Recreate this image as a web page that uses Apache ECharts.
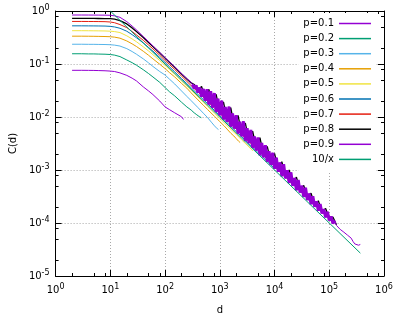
<!DOCTYPE html>
<html>
<head>
<meta charset="utf-8">
<script src="https://cdn.jsdelivr.net/npm/echarts@6/dist/echarts.min.js"></script>
<style>
  html, body { margin: 0; padding: 0; background: #fff; }
  #chart { width: 407px; height: 323px; }
</style>
</head>
<body>
<div id="chart"></div>
<script>
// d values shared by the smooth part of every curve
const dGrid = [2, 3, 4, 5, 6, 8, 10, 12, 15, 20, 25, 30, 40, 50, 60, 80, 100, 120, 150, 200,
  250, 300, 400, 500, 600, 800, 1000, 1200, 1500, 2000, 2500, 3000, 4000, 5000, 6000, 8000,
  10000, 12000, 15000, 20000];

// C(d), one array per p
const c01 = [0.076, 0.076, 0.0758, 0.0756, 0.0752, 0.0745, 0.0735, 0.072, 0.068, 0.061,
  0.054, 0.048, 0.037, 0.031, 0.0265, 0.020, 0.0155, 0.0138, 0.0120, 0.0101];
const c01TailD = [205, 210, 214, 217];
const c01TailC = [0.0097, 0.0100, 0.0094, 0.0090];

const c02 = [0.156, 0.156, 0.155, 0.155, 0.154, 0.153, 0.151, 0.147, 0.138, 0.119,
  0.106, 0.095, 0.078, 0.066, 0.057, 0.045, 0.036, 0.030, 0.025, 0.019, 0.0155, 0.0135];
const c02TailD = [320, 340, 360, 380, 400, 420, 440, 460];
const c02TailC = [0.0132, 0.0120, 0.0126, 0.0110, 0.0117, 0.0102, 0.0110, 0.0097];

const c03 = [0.236, 0.236, 0.235, 0.235, 0.234, 0.233, 0.231, 0.227, 0.218, 0.195,
  0.172, 0.153, 0.125, 0.105, 0.090, 0.072, 0.062, 0.052, 0.042, 0.031,
  0.0245, 0.0203, 0.0150, 0.0118, 0.0097];
const c03TailD = [650, 700, 750, 800, 850, 900, 944];
const c03TailC = [0.0094, 0.0080, 0.0082, 0.0068, 0.0071, 0.0060, 0.0058];

const c04 = [0.335, 0.335, 0.334, 0.333, 0.332, 0.330, 0.327, 0.321, 0.307, 0.272,
  0.240, 0.214, 0.174, 0.146, 0.125, 0.099, 0.082, 0.069, 0.057, 0.043,
  0.035, 0.0285, 0.021, 0.0167, 0.0138, 0.0103, 0.0082, 0.0068];
const c04TailD = [1300, 1400, 1500, 1600, 1700, 1800, 1900, 2000, 2100, 2200, 2300, 2350];
const c04TailC = [0.0066, 0.0057, 0.0058, 0.0049, 0.0051, 0.0044, 0.0046, 0.0039, 0.0041, 0.0035, 0.0036, 0.0033];

const c05 = [0.425, 0.425, 0.424, 0.423, 0.422, 0.420, 0.416, 0.409, 0.392, 0.340,
  0.297, 0.263, 0.211, 0.176, 0.150, 0.116, 0.094, 0.079, 0.064, 0.048,
  0.0385, 0.032, 0.0238, 0.019, 0.0158, 0.0118, 0.0094, 0.0078, 0.0062, 0.0047,
  0.0037, 0.0031, 0.0023];

const c06 = [0.525, 0.525, 0.524, 0.523, 0.522, 0.520, 0.513, 0.500, 0.472, 0.415,
  0.358, 0.313, 0.250, 0.205, 0.175, 0.133, 0.107, 0.089, 0.071, 0.053,
  0.0425, 0.0355, 0.0266, 0.0213, 0.0178, 0.0133, 0.0106, 0.0089, 0.0071, 0.0053,
  0.0043, 0.00355, 0.00266, 0.00213, 0.00178, 0.00133, 0.00106];

const c07 = [0.635, 0.635, 0.634, 0.633, 0.632, 0.629, 0.620, 0.600, 0.555, 0.485,
  0.410, 0.355, 0.280, 0.228, 0.193, 0.146, 0.117, 0.098, 0.079, 0.059,
  0.047, 0.039, 0.0295, 0.0235, 0.0196, 0.0147, 0.0117, 0.0098, 0.0078, 0.0059,
  0.0047, 0.0039, 0.00293, 0.00235, 0.00196, 0.00147, 0.00117, 0.00098, 0.00078, 0.00059];

const c08 = [0.725, 0.725, 0.724, 0.723, 0.722, 0.720, 0.715, 0.700, 0.660, 0.570,
  0.480, 0.410, 0.315, 0.255, 0.213, 0.161, 0.129, 0.108, 0.087, 0.065, 0.052, 0.044];
// noisy part of p=0.8
const c08NoiseD = [341.5, 398.1, 464.2, 541.2, 631.0, 735.6, 857.7,
  1000, 1166, 1359, 1585, 1848, 2154, 2512, 2929, 3415, 3981, 4642, 5412, 6310, 7356, 8577,
  10000, 11660, 13590, 15850, 18480, 21540, 25120, 29290, 34150, 39810, 46420, 54120, 63100, 73560, 85770,
  100000, 116600, 135900];
const c08NoiseC = [0.0410, 0.0314, 0.0377, 0.0222, 0.0333, 0.0163, 0.0268,
  0.0120, 0.0193, 0.00883, 0.0151, 0.00649, 0.0107, 0.00478, 0.00768, 0.00351, 0.0054, 0.00258, 0.00407, 0.0019, 0.00279, 0.0014,
  0.00205, 0.00103, 0.00143, 0.000757, 0.00100, 0.000557, 0.000736, 0.00041, 0.000513, 0.000301, 0.000366, 0.000222, 0.000262, 0.000163, 0.000187,
  1.25e-4, 1.29e-4, 9.2e-5];

const c09 = [0.840, 0.840, 0.839, 0.838, 0.837, 0.835, 0.830, 0.810, 0.760, 0.630,
  0.520, 0.440, 0.330, 0.265, 0.220, 0.165, 0.132, 0.110, 0.088, 0.066, 0.053, 0.045];
// noisy part of p=0.9 (first 79 points form the dense band, the rest is the thin tail)
const c09NoiseD = [316.2, 341.5, 368.7, 398.1, 429.9, 464.2, 501.2, 541.2, 584.3, 631.0, 681.3, 735.6, 794.3, 857.7, 926.1,
  1000, 1080, 1166, 1259, 1359, 1468, 1585, 1711, 1848, 1995, 2154, 2326, 2512, 2712, 2929,
  3162, 3415, 3687, 3981, 4299, 4642, 5012, 5412, 5843, 6310, 6813, 7356, 7943, 8577, 9261,
  10000, 10800, 11660, 12590, 13590, 14680, 15850, 17110, 18480, 19950, 21540, 23260, 25120, 27120, 29290,
  31620, 34150, 36870, 39810, 42990, 46420, 50120, 54120, 58430, 63100, 68130, 73560, 79430, 85770, 92610,
  100000, 108000, 116600, 125900, 135900, 146800, 158500, 171100, 184800, 199500, 215400, 232600, 251200,
  271200, 292900, 316200, 341500, 368700];
const c09NoiseC = [0.0411, 0.0346, 0.0393, 0.0289, 0.0361, 0.0241, 0.0339, 0.0203, 0.0334, 0.0171, 0.0308, 0.0150, 0.0283, 0.0124, 0.0221,
  0.0108, 0.0204, 0.0090, 0.0155, 0.00809, 0.0157, 0.00656, 0.0117, 0.00606, 0.0108, 0.00487, 0.00817, 0.00430, 0.00830, 0.00352,
  0.00617, 0.00322, 0.00570, 0.00261, 0.00430, 0.00233, 0.00409, 0.00189, 0.00325, 0.00174, 0.00294, 0.00143, 0.00227, 0.00126, 0.00211,
  0.00105, 0.00171, 0.000926, 0.00139, 0.000758, 0.00129, 0.000694, 0.000993, 0.000568, 0.000902, 0.000501, 0.000709, 0.000414, 0.000645, 0.000376,
  0.000506, 0.000310, 0.000461, 0.000271, 0.000361, 0.000226, 0.000319, 0.000203, 0.000257, 0.000171, 0.000228, 0.000152, 0.000183, 0.000128, 0.000162,
  1.12e-4, 1.34e-4, 9.86e-5, 1.11e-4, 8.97e-5, 8.72e-5, 7.57e-5, 7.36e-5, 6.71e-5, 6.52e-5, 5.90e-5, 5.85e-5, 5.18e-5,
  4.50e-5, 4.03e-5, 3.92e-5, 3.81e-5, 3.93e-5];
const bandCount = 79;

// reference line 10/x
const refD = [10, 370000];
const refC = [1, 2.7e-5];

const names = ['p=0.1', 'p=0.2', 'p=0.3', 'p=0.4', 'p=0.5', 'p=0.6', 'p=0.7', 'p=0.8', 'p=0.9', '10/x'];
const colors = ['#9400d3', '#009e73', '#56b4e9', '#e69f00', '#f0e442', '#0072b2', '#e51e10', '#000000', '#9400d3', '#009e73'];

// minor tick positions (gnuplot shows 2, 5, 8 in each decade)
const xMinor = [2, 5, 8, 20, 50, 80, 200, 500, 800, 2000, 5000, 8000, 20000, 50000, 80000, 200000, 500000, 800000];
const yMinor = [2e-5, 5e-5, 8e-5, 2e-4, 5e-4, 8e-4, 2e-3, 5e-3, 8e-3, 0.02, 0.05, 0.08, 0.2, 0.5, 0.8];

const FONT = 'DejaVu Sans';

function pairs(ds, cs) {
  return cs.map((c, i) => [ds[i], c]);
}

const curves = [
  pairs(dGrid, c01).concat(pairs(c01TailD, c01TailC)),
  pairs(dGrid, c02).concat(pairs(c02TailD, c02TailC)),
  pairs(dGrid, c03).concat(pairs(c03TailD, c03TailC)),
  pairs(dGrid, c04).concat(pairs(c04TailD, c04TailC)),
  pairs(dGrid, c05),
  pairs(dGrid, c06),
  pairs(dGrid, c07),
  pairs(dGrid, c08).concat(pairs(c08NoiseD, c08NoiseC)),
  pairs(dGrid, c09).concat(pairs(c09NoiseD, c09NoiseC)),
  pairs(refD, refC)
];

const rich = {
  b: { fontFamily: FONT, fontSize: 10, color: '#000', lineHeight: 14 },
  e: { fontFamily: FONT, fontSize: 8, color: '#000', lineHeight: 6, verticalAlign: 'top' }
};
function powLabel(v) {
  return '{b|10}{e|' + Math.round(Math.log10(v)) + '}';
}

// one axis with the big ticks (and maybe labels/grid), one with the small ticks
function majorAxis(min, max, split, pos, main) {
  return {
    type: 'log', logBase: 10, min: min, max: max, splitNumber: split, position: pos,
    axisLine: { show: true, onZero: false, lineStyle: { color: '#000', width: 1 } },
    axisTick: { show: true, inside: true, length: 6, lineStyle: { color: '#000', width: 1 } },
    axisLabel: main ? { show: true, formatter: powLabel, rich: rich, margin: 7 } : { show: false },
    splitLine: main ? { show: true, lineStyle: { color: '#a8a8a8', type: [1, 2], width: 1 } } : { show: false },
    minorTick: { show: false }
  };
}
function minorAxis(min, max, pos, vals) {
  return {
    type: 'log', logBase: 10, min: min, max: max, position: pos,
    axisLine: { show: false },
    axisTick: { show: true, inside: true, length: 3, customValues: vals, lineStyle: { color: '#000', width: 1 } },
    axisLabel: { show: false },
    splitLine: { show: false }
  };
}

const xMain = majorAxis(1, 1e6, 6, 'bottom', true);
xMain.name = 'd';
xMain.nameLocation = 'middle';
xMain.nameGap = 29;
xMain.nameTextStyle = { fontFamily: FONT, fontSize: 10, color: '#000' };

const yMain = majorAxis(1e-5, 1, 5, 'left', true);
yMain.axisLabel.margin = 6;
yMain.name = 'C(d)';
yMain.nameLocation = 'middle';
yMain.nameGap = 37;
yMain.nameTextStyle = { fontFamily: FONT, fontSize: 10, color: '#000' };

const series = curves.map((data, i) => ({
  name: names[i],
  type: 'line',
  data: data,
  symbol: 'none',
  showSymbol: false,
  color: colors[i],
  lineStyle: { color: colors[i], width: 1 },
  z: 2
}));
// black fringe a bit wider, and the dense p=0.9 band drawn thick so it reads as a filled band
series[7].lineStyle.width = 1.3;
series.splice(9, 0, {
  name: 'p=0.9',
  type: 'line',
  data: pairs(c09NoiseD.slice(0, bandCount), c09NoiseC.slice(0, bandCount)),
  symbol: 'none',
  showSymbol: false,
  color: colors[8],
  lineStyle: { color: colors[8], width: 3 },
  z: 2
});

const chart = echarts.init(document.getElementById('chart'));
chart.setOption({
  animation: false,
  backgroundColor: '#fff',
  grid: { left: 49, right: 23, top: 11, bottom: 47, containLabel: false },
  xAxis: [
    xMain,
    minorAxis(1, 1e6, 'bottom', xMinor),
    majorAxis(1, 1e6, 6, 'top', false),
    minorAxis(1, 1e6, 'top', xMinor)
  ],
  yAxis: [
    yMain,
    minorAxis(1e-5, 1, 'left', yMinor),
    majorAxis(1e-5, 1, 5, 'right', false),
    minorAxis(1e-5, 1, 'right', yMinor)
  ],
  legend: {
    data: names,
    orient: 'vertical',
    align: 'right',
    icon: 'rect',
    right: 32,
    top: 13,
    itemWidth: 32,
    itemHeight: 1.5,
    itemGap: 2.1,
    padding: [4, 4, 6, 5],
    backgroundColor: '#fff',
    selectedMode: false,
    textStyle: { fontFamily: FONT, fontSize: 10, color: '#000', lineHeight: 13 }
  },
  series: series
});
</script>
</body>
</html>
